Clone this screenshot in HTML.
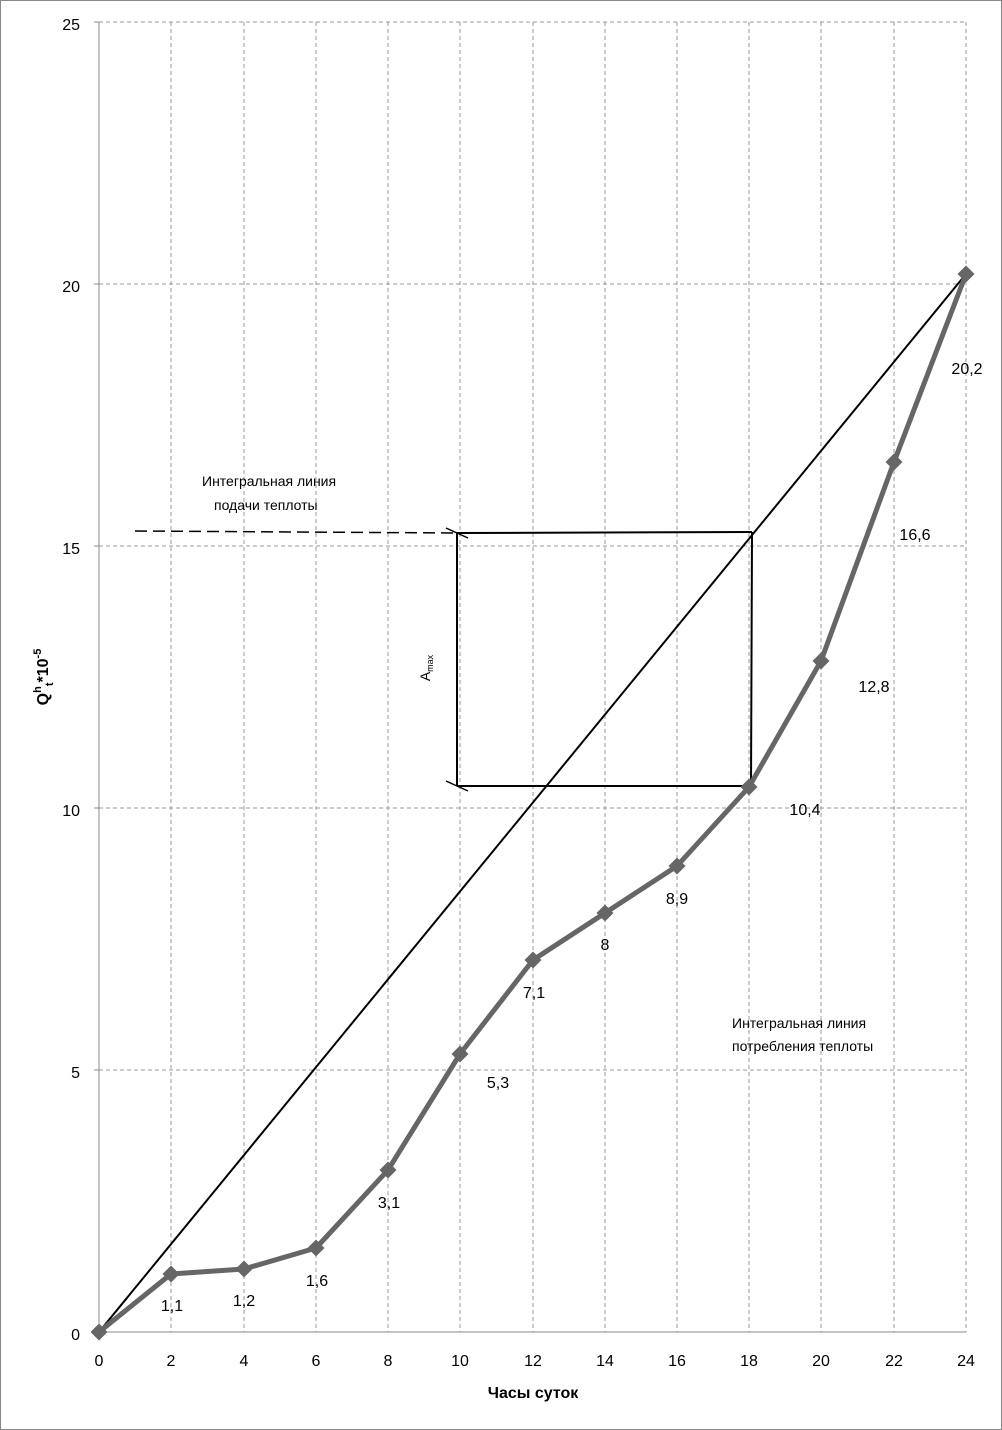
<!DOCTYPE html>
<html><head><meta charset="utf-8"><style>
body{margin:0;background:#fff}
svg{display:block;font-family:"Liberation Sans",sans-serif}
</style></head><body>
<svg width="1002" height="1430" viewBox="0 0 1002 1430">
<rect x="0.5" y="0.5" width="1001" height="1429" fill="#fff" stroke="#888"/>
<g stroke="#999" stroke-width="1" stroke-dasharray="4,3">
<line x1="99" y1="22" x2="966" y2="22"/><line x1="99" y1="284" x2="966" y2="284"/>
<line x1="99" y1="546" x2="966" y2="546"/><line x1="99" y1="808" x2="966" y2="808"/>
<line x1="99" y1="1070" x2="966" y2="1070"/>
<line x1="171" y1="22" x2="171" y2="1332"/><line x1="244" y1="22" x2="244" y2="1332"/>
<line x1="316" y1="22" x2="316" y2="1332"/><line x1="388" y1="22" x2="388" y2="1332"/>
<line x1="460" y1="22" x2="460" y2="1332"/><line x1="533" y1="22" x2="533" y2="1332"/>
<line x1="605" y1="22" x2="605" y2="1332"/><line x1="677" y1="22" x2="677" y2="1332"/>
<line x1="749" y1="22" x2="749" y2="1332"/><line x1="821" y1="22" x2="821" y2="1332"/>
<line x1="894" y1="22" x2="894" y2="1332"/><line x1="966" y1="22" x2="966" y2="1332"/>
</g>
<g stroke="#888" stroke-width="1">
<line x1="99" y1="22" x2="99" y2="1332"/><line x1="99" y1="1332" x2="966" y2="1332"/>
<line x1="94" y1="22" x2="99" y2="22"/><line x1="94" y1="284" x2="99" y2="284"/><line x1="94" y1="546" x2="99" y2="546"/><line x1="94" y1="808" x2="99" y2="808"/><line x1="94" y1="1070" x2="99" y2="1070"/>
</g>
<g font-size="16" fill="#000" text-anchor="end">
<text x="80" y="30">25</text><text x="80" y="292">20</text><text x="80" y="554">15</text><text x="80" y="816">10</text><text x="80" y="1078">5</text><text x="80" y="1340">0</text>
</g>
<g font-size="16" fill="#000" text-anchor="middle">
<text x="99" y="1366">0</text><text x="171" y="1366">2</text><text x="244" y="1366">4</text><text x="316" y="1366">6</text><text x="388" y="1366">8</text><text x="460" y="1366">10</text><text x="533" y="1366">12</text><text x="605" y="1366">14</text><text x="677" y="1366">16</text><text x="749" y="1366">18</text><text x="821" y="1366">20</text><text x="894" y="1366">22</text><text x="966" y="1366">24</text>
</g>
<text x="533" y="1398" font-size="16" font-weight="bold" text-anchor="middle">Часы суток</text>
<text transform="translate(48,677) rotate(-90)" font-size="16" font-weight="bold" text-anchor="middle">Q<tspan font-size="11" dy="-7">h</tspan><tspan font-size="11" dy="12">t</tspan><tspan dy="-5">*10</tspan><tspan font-size="11" dy="-7">-5</tspan></text>
<line x1="99" y1="1332" x2="966" y2="274" stroke="#000" stroke-width="2"/>
<g stroke="#000" stroke-width="2" fill="none">
<line x1="457" y1="533" x2="752" y2="532"/><line x1="457" y1="786" x2="751" y2="786"/>
<line x1="457" y1="533" x2="457" y2="786"/><line x1="752" y1="532" x2="751" y2="786"/>
<line x1="135" y1="531" x2="457" y2="533" stroke-dasharray="12,6" stroke-width="1.5"/>
<line x1="446" y1="528" x2="468" y2="538" stroke-width="1.5"/><line x1="446" y1="781" x2="468" y2="791" stroke-width="1.5"/>
</g>
<text transform="translate(430,668) rotate(-90)" font-size="14" text-anchor="middle">A<tspan font-size="9" dy="3">max</tspan></text>
<polyline fill="none" stroke="#666" stroke-width="5" stroke-linejoin="round" points="99,1332 171,1274 244,1269 316,1248 388,1170 460,1054 533,960 605,913 677,866 749,787 821,661 894,462 966,274"/>
<g fill="#666">
<rect x="-6" y="-6" width="12" height="12" transform="translate(99,1332) rotate(45)"/>
<rect x="-6" y="-6" width="12" height="12" transform="translate(171,1274) rotate(45)"/>
<rect x="-6" y="-6" width="12" height="12" transform="translate(244,1269) rotate(45)"/>
<rect x="-6" y="-6" width="12" height="12" transform="translate(316,1248) rotate(45)"/>
<rect x="-6" y="-6" width="12" height="12" transform="translate(388,1170) rotate(45)"/>
<rect x="-6" y="-6" width="12" height="12" transform="translate(460,1054) rotate(45)"/>
<rect x="-6" y="-6" width="12" height="12" transform="translate(533,960) rotate(45)"/>
<rect x="-6" y="-6" width="12" height="12" transform="translate(605,913) rotate(45)"/>
<rect x="-6" y="-6" width="12" height="12" transform="translate(677,866) rotate(45)"/>
<rect x="-6" y="-6" width="12" height="12" transform="translate(749,787) rotate(45)"/>
<rect x="-6" y="-6" width="12" height="12" transform="translate(821,661) rotate(45)"/>
<rect x="-6" y="-6" width="12" height="12" transform="translate(894,462) rotate(45)"/>
<rect x="-6" y="-6" width="12" height="12" transform="translate(966,274) rotate(45)"/>
</g>
<g font-size="16" fill="#000" text-anchor="middle">
<text x="172" y="1311">1,1</text><text x="244" y="1306">1,2</text><text x="317" y="1286">1,6</text><text x="389" y="1208">3,1</text><text x="498" y="1088">5,3</text><text x="534" y="998">7,1</text><text x="605" y="950">8</text><text x="677" y="904">8,9</text><text x="805" y="815">10,4</text><text x="874" y="692">12,8</text><text x="915" y="540">16,6</text><text x="967" y="374">20,2</text>
</g>
<g font-size="14" fill="#000">
<text x="202" y="486">Интегральная линия</text><text x="214" y="510">подачи теплоты</text>
<text x="732" y="1028">Интегральная линия</text><text x="732" y="1051">потребления теплоты</text>
</g>
</svg>
</body></html>
